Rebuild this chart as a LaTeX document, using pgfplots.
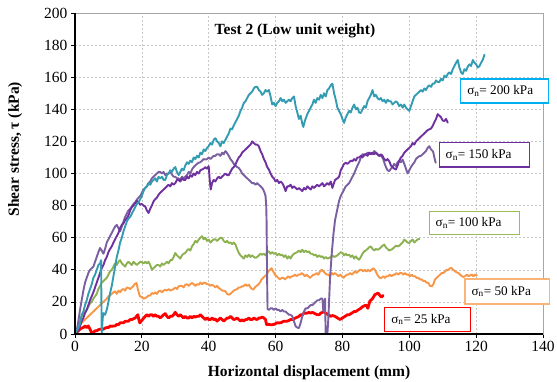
\documentclass[border=0pt]{standalone}
\usepackage{fontspec}
\setmainfont{Liberation Serif}
\usepackage{pgfplots}
\pgfplotsset{compat=1.18}

\definecolor{c200}{RGB}{52,156,178}
\definecolor{c150a}{RGB}{112,48,160}
\definecolor{c150b}{RGB}{122,96,160}
\definecolor{c100}{RGB}{140,177,80}
\definecolor{c50}{RGB}{247,150,70}
\definecolor{c25}{RGB}{255,0,0}
\definecolor{b200}{RGB}{0,176,240}
\definecolor{b150}{RGB}{112,48,160}
\definecolor{b100}{RGB}{155,187,89}
\definecolor{b50}{RGB}{250,180,120}
\definecolor{b25}{RGB}{255,0,0}

% boxed series label: colour, box width, box height, position, text
\newcommand{\seriesbox}[5]{%
  \node[draw=#1, line width=1.2pt, fill=white, inner sep=0pt,
        minimum width=#2, minimum height=#3,
        font=\fontsize{13.2}{15}\selectfont] at (#4)
       {\makebox[\dimexpr#2-13pt\relax][l]{#5}};}

\begin{document}
\begin{tikzpicture}
\useasboundingbox (-75pt,-47pt) rectangle (482pt,334pt);
\begin{axis}[
  at={(0pt,0pt)}, anchor=south west,
  width=468pt, height=321pt, scale only axis,
  xmin=0, xmax=140, ymin=0, ymax=200,
  xtick={0,20,...,140}, ytick={0,20,...,200},
  tick pos=left, tick align=outside, major tick length=4pt,
  tick style={black, line width=0.8pt},
  grid=major,
  major grid style={gray!45, dash pattern=on 2pt off 2pt, line width=0.6pt},
  axis line style={gray!70, line width=0.8pt},
  ticklabel style={font=\fontsize{15.5}{18}\selectfont},
  /pgf/number format/assume math mode=true,
  clip=false,
  xlabel={Horizontal displacement (mm)},
  ylabel={Shear stress, τ (kPa)},
  label style={font=\bfseries\fontsize{15.5}{18}\selectfont},
  xlabel style={at={(axis description cs:0.5,-0.1215)}, anchor=center},
  ylabel style={at={(axis description cs:-0.128,0.576)}, anchor=center},
  every axis plot/.append style={line join=round, line cap=round, no markers},
]

% 25 kPa
\addplot[c25, line width=2.8pt] coordinates {
(0,0.6)(0.5,1)(1,2)(1.5,3)(2,3.7)(2.5,4)(3,5)(3.5,4)(4,5)(4.5,3)(5,0.6)(5.5,1)(6,2)(6.5,2)(7,2.7)(7.5,3)(8,3)(8.5,3)(9,3.7)(9.5,4)(10,4)(10.5,5)(11,4.8)(11.5,5)(12,5)(12.5,6)(13,5.8)(13.5,7)(14,7)(14.5,7)(15,7.9)(15.5,8)(16,8)(16.5,9)(17,9)(17.5,9.5)(18,10)(18.4,11)(18.8,12)(19.1,9)(19.4,6.9)(19.8,8)(20.2,9)(20.6,10)(21,11)(21.5,12)(22,11)(22.5,12)(23,12)(23.5,11)(24,12)(24.5,11)(25,11)(25.5,10)(26,11)(26.5,12)(27,12.7)(27.5,11)(28,10)(28.5,11)(29,11)(29.5,12)(30,13.5)(30.5,12)(31,11)(31.5,12)(32,11)(32.5,10)(33,11)(33.5,10)(34,10)(34.5,11)(35,10)(35.5,11)(36,10.6)(36.5,11)(37,11)(37.5,12)(38,11)(38.5,10)(39,9)(39.5,10)(40,9)(40.5,9)(41,10)(41.5,9)(42,9.3)(42.5,8)(43,9)(43.5,10)(44,9)(44.5,8)(45,9)(45.5,10)(46,10)(46.5,11)(47,10)(47.5,9)(48,9.3)(48.5,10)(49,9)(49.5,8)(50,9)(50.5,8)(51,9)(51.5,9)(52,10)(52.5,9)(53,9)(53.5,10)(54,9.3)(54.5,9)(55,10)(55.5,10)(56,10.6)(56.5,10)(57,9)(57.3,5.8)(58,6)(58.5,5.8)(59,5.8)(59.5,6)(60,6.5)(60.5,7)(61,6.9)(61.5,7)(62,7.5)(62.5,8)(63,7.9)(63.5,8)(64,8.5)(64.5,9)(65,9)(65.5,9.5)(66,10)(66.5,10.5)(67,11)(67.5,12)(68,12)(68.5,13)(69,13)(69.5,13)(70,13.5)(70.5,13)(71,13.5)(71.5,13)(72,12.5)(72.5,12)(73,12)(73.5,13)(74,13.5)(74.3,14)(75,13)(75.8,12)(76.5,11)(77,11.5)(77.8,11)(78.5,10)(79.3,9)(80,10)(80.8,11)(81.5,12)(82,12)(82.8,13)(83.5,14)(84,14)(84.7,15)(85.5,16)(86,17)(86.7,17.7)(87.2,18)(87.6,16)(88.2,20.4)(89,22)(89.7,24.5)(90.2,25)(90.7,25.5)(91.2,24)(91.7,23)(92.2,24)
};

% 50 kPa
\addplot[c50, line width=1.9pt] coordinates {
(0,0)(0.5,2)(1,4)(1.5,5.5)(2,6.9)(2.5,8)(3,9)(3.5,10)(4,11)(4.5,12)(5,13)(5.5,14)(6,15)(6.5,16)(7,17)(7.5,18)(8,19)(8.5,20)(9,21)(9.5,22)(10,23.5)(10.5,24)(11,25)(11.5,26)(12,26.6)(12.5,25)(13,27)(13.5,26)(14,27.6)(14.5,28)(15,27)(15.5,29)(16,28.7)(16.5,28)(17,29)(17.4,29.7)(17.8,31)(18.4,31.8)(18.8,28)(19.4,23.5)(20,23)(20.5,22)(21,22.4)(21.5,23)(22,24)(22.5,24)(23,25.5)(23.5,25)(24,26)(24.5,25)(25,26.6)(25.5,27)(26,26)(26.5,27)(27,27.6)(27.5,27)(28,28)(28.5,27)(29,27.6)(29.5,28)(30,29)(30.5,28)(31,29.7)(31.5,30)(32,30)(32.5,29)(33,30.7)(33.5,31)(34,30)(34.5,31)(35,31.8)(35.5,31)(36,30)(36.5,31)(37,30.7)(37.5,32)(38,31)(38.5,32)(39,31.8)(39.5,31)(40,31)(40.5,30)(41,30.7)(41.5,30)(42,29)(42.5,30)(43,28.7)(43.5,28)(44,27)(44.5,27)(45,26.6)(45.5,25)(46,24.5)(46.5,25)(47,26)(47.5,27)(48,27.6)(48.5,28)(49,29)(49.5,29)(50,29.7)(50.5,30)(51,31)(51.5,30)(52,30.7)(52.5,29)(53,28)(53.3,27.6)(53.8,29)(54.3,30)(54.8,30.7)(55.3,32)(55.8,34)(56.3,35)(56.8,36)(57.3,37)(57.8,39)(58.3,40)(58.8,41)(59.3,39)(59.8,37)(60.3,36)(60.8,35)(61.3,34)(61.8,35)(62.3,35)(62.8,34)(63.3,35)(63.8,36)(64.3,35)(64.8,36)(65.3,36)(65.8,37)(66.3,36)(66.8,37)(67.3,37)(67.8,38)(68.3,37)(68.8,36)(69.3,37)(69.8,36)(70.3,35)(70.8,36)(71.3,37)(71.8,37)(72.3,38)(72.8,37)(73.3,39)(73.8,40)(74.3,39)(74.8,38)(75.3,37)(75.8,37)(76.3,36)(76.8,38)(77.3,37)(77.8,38)(78.3,37)(78.8,36)(79.3,37)(79.8,36)(80.3,35)(80.8,36)(81.3,37)(81.8,37)(82.3,38)(82.8,37)(83.3,38)(83.7,39)(84.2,38)(84.7,39)(85.2,40)(85.7,40)(86.2,39)(86.7,40)(87.2,39)(87.7,40)(88.2,39)(88.7,40)(89.2,41)(89.7,40)(90.2,38)(90.7,36)(91.2,35)(91.7,35)(92.2,36)(92.7,35)(93.2,36)(93.7,36)(94.2,37)(94.7,36)(95.2,37)(95.7,37)(96.2,38)(96.7,37)(97.2,38)(97.7,38)(98.2,37)(98.7,38)(99.2,37)(99.7,37)(100.2,36)(100.7,37)(101.2,36)(101.7,36)(102.2,35)(102.7,35)(103.2,34)(103.7,34)(104.2,33)(104.7,33)(105.2,32)(105.7,31.8)(106.2,30)(106.7,29.7)(107.2,31)(107.7,34)(108.2,35)(108.7,36)(109.2,37)(109.7,38)(110.2,38)(110.7,39)(111.2,40)(111.7,40)(112.2,41)(112.7,41)(113.2,40)(113.7,39)(114.2,38.4)(114.7,38)(115.2,37)(115.7,36)(116.2,35.6)(116.7,36)(117.2,37)(117.7,36)(118.2,36.6)(118.7,37)(119.2,36)(119.7,37)(120.2,36.6)
};

% 100 kPa
\addplot[c100, line width=1.9pt] coordinates {
(0,0)(0.5,2)(1,5)(1.5,8)(2,11)(2.5,12)(3,14)(3.5,15)(4,17)(4.5,19)(5,20)(5.5,22)(6,23.5)(6.5,25)(7,28)(7.5,30)(8,32)(8.5,33)(9,34)(9.5,35)(10,37)(10.5,39)(11,40)(11.5,42)(12,44)(12.5,43)(13,45)(13.5,46)(14,44)(14.5,43)(15,42)(15.5,44)(16,45)(16.5,44)(17,43)(17.5,45)(18,44)(18.5,43)(19,44)(19.5,45)(20,44.7)(20.5,44)(21,45)(21.5,44)(22,45)(22.5,43)(23,40)(23.5,41)(24,42)(24.5,43)(25,43)(25.5,42)(26,44)(26.5,43)(27,44)(27.5,45)(28,44)(28.5,46)(29,46)(29.5,48)(30,50.5)(30.5,49)(31,48)(31.5,47)(32,49)(32.5,50)(33,50.5)(33.5,52)(34,53)(34.5,52)(35,54.6)(35.5,56)(36,58)(36.5,57)(37,58.8)(37.5,60)(38,60.9)(38.5,59)(39,60)(39.5,58)(40,58.8)(40.5,57)(41,58)(41.5,59)(42,59)(42.5,58)(43,59)(43.5,60)(44,59.8)(44.5,58)(45,57)(45.5,58)(46,56.7)(46.5,57)(47,56)(47.5,57)(48,55.7)(48.5,53)(49,50.5)(49.5,49)(50,48)(50.5,47)(51,49)(51.5,48)(52,49.4)(52.5,48)(53,49)(53.5,48)(54,47.4)(54.5,48)(55,49)(55.5,50)(56,49.4)(56.5,50)(57,49)(57.5,51)(58,51.5)(58.5,50)(59,51)(59.5,50)(60,50.5)(60.5,49)(61,50)(61.5,49)(62,49.4)(62.5,48)(63,49)(63.5,47)(64,48.4)(64.5,47)(65,49)(65.5,50)(66,50.5)(66.5,51)(67,52)(67.5,51)(68,52.5)(68.5,51)(69,52)(69.5,51)(70,51.5)(70.5,50)(71,50)(71.5,49)(72,49.4)(72.5,48)(73,49)(73.5,48)(74,48.4)(74.5,47)(75,48)(75.5,47)(76,47.4)(76.5,48)(77,49)(77.5,48)(78,48.4)(78.5,49)(79,50)(79.5,51)(80,50.5)(80.5,49)(81,50)(81.5,49)(82,49.4)(82.5,48)(83,49)(83.5,47)(84,48.4)(84.5,47)(85,46.3)(85.5,48)(86,50)(86.5,51.5)(87,52)(87.5,53)(88,54)(88.5,54.6)(89,53)(89.5,52)(90,53)(90.5,52.5)(91,53)(91.5,54)(92,55)(92.5,55.7)(93,54)(93.5,53)(94,52)(94.5,52.5)(95,53)(95.5,54)(96,55)(96.5,54.6)(97,55)(97.5,56)(98,57)(98.5,58.8)(99,58)(99.5,57)(100,56.7)(100.5,58)(101,58.8)(101.5,57)(102,58)(102.5,59)(103,59.2)
};

% 150 kPa, second trace
\addplot[c150b, line width=1.9pt] coordinates {
(0,0)(0.5,1.7)(1,8)(1.5,15)(2,21)(2.5,27)(3,32)(3.5,35)(4,38)(4.5,40)(5,41)(5.5,42)(6,45)(6.5,48)(7,51)(7.5,53.6)(8,52)(8.5,50)(9,53)(9.5,57)(10,59)(10.5,61)(11,63)(11.5,65)(12,67)(12.5,68)(13,66)(13.5,64)(14,67)(14.5,70)(15,73)(15.5,75)(16,77)(16.5,78)(17,79.5)(17.5,81)(18,82)(18.5,83.7)(19,85)(19.5,86)(20,88)(20.5,90)(21,91)(21.5,92)(22,94)(22.5,95)(23,97)(23.5,98)(24,99)(24.5,100)(25,101)(25.5,101)(26,100)(26.5,101)(27,99)(27.5,100)(28,100)(28.5,101)(29,99.4)(29.5,98)(30,98)(30.5,97)(31,97)(31.5,96)(32,98)(32.5,97)(33,98)(33.5,99)(34,101)(34.5,100)(35,102.5)(35.5,104)(36,105)(36.5,106)(37,106.7)(37.5,107)(38,108)(38.5,109)(39,108.7)(39.5,109)(40,110)(40.5,109)(41,110)(41.5,111)(42,111)(42.5,112)(43,112)(43.5,111)(44,113)(44.5,112)(45,114)(45.4,113)(46,111)(46.5,109)(47,107.7)(47.5,106)(48,105)(48.5,104)(49,103.5)(49.5,102)(50,100)(50.5,99)(51,98)(51.5,97)(52,96)(52.5,95)(53,94)(53.5,94)(54,93)(54.5,94)(55,93)(55.5,92)(56,91)(56.3,90)(56.7,88)(57,86)(57.2,80)(57.3,71)(57.4,50)(57.5,30)(57.6,15.6)(58,15)(58.5,16)(59,16)(59.5,15)(60,16)(60.5,15)(61,15)(61.5,14)(62,15)(62.5,14)(63,14)(63.5,13)(64,12)(64.5,12)(65,11)(65.5,8)(66,4.8)(66.5,4)(67,3.7)(67.5,7)(68,11)(68.5,14)(69,16)(69.5,16)(70,17)(70.5,18)(71,18)(71.5,19)(72,20)(72.5,21)(73,21)(73.5,22)(74,22)(74.3,14)(74.6,20)(74.8,22)(74.9,10)(75,0)(75.5,0)(75.8,10)(76,20)(76.3,35)(76.8,50)(77.3,62)(77.8,71)(78.5,78)(79,83)(79.5,86)(80,88)(80.5,90)(81,92)(81.5,93)(82,94)(82.5,96)(83,98)(83.5,100)(84,102.5)(84.5,105)(85,107)(85.5,110)(86,112)(86.5,111)(87,112)(87.5,113)(88,112)(88.5,113)(89,112)(89.5,114)(90,113)(90.5,112)(91,111)(91.5,111)(92,110)(92.5,107)(93,104)(93.5,102)(94,101.5)(94.5,103)(95,104)(95.5,106)(96,104.6)(96.5,107)(97,108)(97.5,107)(98,108.7)(98.5,106)(99,103)(99.5,100)(100,102)(100.5,104)(101,105.6)(101.5,107)(102,109)(102.5,110)(103,110.8)(103.5,111)(104,112)(104.5,113)(105,114)(105.5,116)(106,117)(106.5,115)(107,114)(107.2,113)(107.5,110)(107.9,106.7)
};

% 150 kPa
\addplot[c150a, line width=1.9pt] coordinates {
(0,0)(0.5,1)(1,2.7)(1.5,5)(2,8)(2.5,10)(3,13)(3.5,15)(4,18)(4.5,21)(5,23.5)(5.5,26)(6,29)(6.5,32)(7,35)(7.5,38)(8,41)(8.5,43)(9,46)(9.5,48)(10,51)(10.5,53)(11,54.6)(11.5,57)(12,59)(12.5,61)(13,63)(13.5,66)(14,68)(14.5,69)(15,71)(15.5,72)(16,74)(16.5,77)(17,79)(17.5,80)(18,81.6)(18.5,83)(19,82)(19.5,80.6)(20,81)(20.5,80)(21,79.5)(21.5,77)(22,75.4)(22.5,78)(23,80)(23.5,82.7)(24,84)(24.5,85)(25,86.8)(25.5,88)(26,89)(26.5,90)(27,91)(27.5,92)(28,93)(28.5,92)(29,94)(29.5,93)(30,94)(30.5,96)(31,96)(31.5,95)(32,97)(32.5,96)(33,96)(33.5,98)(34,97)(34.5,99)(35,98)(35.5,100)(36,99)(36.5,101)(37,100)(37.5,102)(38,102.5)(38.5,103)(39,104)(39.5,103)(40,104.6)(40.3,96)(40.6,90)(41,94)(41.5,96)(42,95)(42.5,97)(43,98)(43.5,97)(44,98)(44.5,99)(45,100)(45.5,99)(46,99)(46.5,101)(47,103)(47.5,104)(48,105.6)(48.5,108)(49,110)(49.5,111)(50,113)(50.5,114)(51,115)(51.5,116)(52,117)(52.5,118)(53,120)(53.5,119)(54,118)(54.5,118)(55,117)(55.5,114)(56,112)(56.5,109)(57,107)(57.5,104)(58,102.5)(58.5,100)(59,98)(59.5,97)(60,95)(60.5,96)(61,94)(61.5,95)(62,94)(62.5,92)(63,89)(63.5,92)(64,92)(64.5,93)(65,91)(65.5,92)(66,91)(66.5,90)(67,91)(67.5,90)(68,89)(68.5,91)(69,90)(69.5,92)(70,91)(70.5,90)(71,92)(71.5,91)(72,92)(72.5,93)(73,92)(73.5,93)(74,94)(74.5,92)(75,93)(75.5,94)(76,93)(76.5,95)(77,91)(77.3,93)(77.8,96)(78.5,97)(79,98)(79.5,102)(80,104)(80.5,106)(81,106.7)(81.5,106)(82,107)(82.5,108)(83,107.7)(83.5,109)(84,108)(84.5,110)(85,110)(85.5,111)(86,110)(86.5,112)(87,112)(87.5,111)(88,113)(88.5,112)(89,113)(89.5,112)(90,113)(90.5,112)(91,111)(91.5,112)(92,111)(92.5,109)(93,108)(93.5,109)(94,107.7)(94.5,105)(95,104)(95.5,103)(96,102.5)(96.5,105)(97,108)(97.5,110)(98,111)(98.5,113)(99,114)(99.5,115)(100,116)(100.5,117)(101,119)(101.5,118)(102,120)(102.5,121)(103,122)(103.5,123)(104,124)(104.5,125)(105,126)(105.5,127)(106,127.5)(106.5,128)(107,129.6)(107.5,132)(108,134)(108.5,137)(109,136)(109.5,135)(110,133)(110.5,132.7)(111,134)(111.5,131.7)
};

% 200 kPa
\addplot[c200, line width=1.9pt] coordinates {
(0,0)(0.5,2)(1,4)(1.5,6.5)(2,12)(2.5,14)(3,18)(3.5,21)(4,25)(4.5,28)(5,31)(5.5,35)(6,37)(6.5,40)(7,43)(7.5,44)(7.8,46)(7.9,20)(8,0.6)(8.3,10)(8.5,13)(9,12)(9.5,15)(10,20)(10.5,25.5)(11,30)(11.5,36)(12,42)(12.5,48)(13,52)(13.5,57)(14,60)(14.5,64)(15,67)(15.5,70)(16,72)(16.5,73)(17,75)(17.5,77)(18,79)(18.5,81)(19,82)(19.5,84)(20,86)(20.5,89)(21,91)(21.5,92)(22,94)(22.5,93)(23,95)(23.5,96)(24,97)(24.5,95)(25,98)(25.5,97)(26,98)(26.5,96)(27,96)(27.5,99)(28,100)(28.5,102)(29,101)(29.5,103)(30,104)(30.5,101)(31,99)(31.5,101)(32,103)(32.5,102)(33,105)(33.5,107)(34,106)(34.5,108)(35,107)(35.5,110)(36,109)(36.5,111)(37,110)(37.5,113)(38,112)(38.5,115)(39,114)(39.5,116)(40,117)(40.5,119)(41,118)(41.5,121)(42,122)(42.5,120)(43,119)(43.5,117)(44,120)(44.5,119)(45,121)(45.5,123)(46,125)(46.5,128)(47,127.5)(47.5,130)(48,132)(48.5,134)(49,136)(49.5,139)(50,141)(50.5,144)(51,145)(51.5,147)(52,149)(52.5,150)(53,151)(53.5,153)(54,154)(54.5,154)(55,152)(55.5,151)(56,149)(56.5,150)(57,152)(57.5,151)(58,152)(58.5,148)(59,143)(59.5,144)(60,142)(60.5,144)(61,145)(61.5,147)(62,145)(62.5,146)(63,144)(63.5,145)(64,146)(64.5,145)(65,147)(65.5,148)(66,142)(66.5,138)(67,134)(67.5,136)(68,131)(68.3,129)(68.8,133)(69.5,137)(70,139)(70.5,141)(71,143)(71.5,146)(72,144)(72.5,147)(73,146)(73.5,149)(74,147)(74.5,150)(75,148)(75.5,152)(76,153)(76.5,155)(77,156)(77.5,150)(78,146)(78.5,141)(79,139)(79.5,137)(80,134)(80.5,131.5)(81,135)(81.5,137)(82,139)(82.5,138)(83,141)(83.5,143)(84,140)(84.5,141)(85,138)(85.5,137.7)(86,140)(86.5,142)(87,141)(87.5,145)(88,147)(88.5,149)(89,152)(89.5,148)(90,149)(90.5,147)(91,146)(91.5,147)(92,145)(92.5,146)(93,144)(93.5,146)(94,145)(94.5,145)(95,143)(95.5,144)(96,145)(96.5,144)(97,142)(97.5,143)(98,141)(98.5,143)(99,141)(99.5,140)(100,139)(100.5,142)(101,145)(101.5,148)(102,149)(102.5,150)(103,151)(103.5,152)(104,151)(104.5,153)(105,152)(105.5,154)(106,155)(106.5,154)(107,156)(107.5,156)(108,158)(108.5,157)(109,157)(109.5,159)(110,158)(110.5,161)(111,160)(111.5,162)(112,163)(112.5,162)(113,165)(113.5,167)(114,169)(114.5,170.7)(115,166)(115.5,163)(116,162)(116.5,165)(117,164)(117.5,166.6)(118,168)(118.5,167)(119,170.7)(119.5,169)(120,168)(120.5,166)(121,167)(121.5,169)(122,171)(122.5,174)
};

% title and series labels
\node[font=\bfseries\fontsize{15.5}{18}\selectfont] at (axis cs:65.8,189) {Test 2 (Low unit weight)};
\seriesbox{b200}{87.6pt}{24pt}{axis cs:128.5,151.4}{σ\textsubscript{n}= 200 kPa}
\seriesbox{b150}{90.7pt}{24.6pt}{axis cs:122.5,111.7}{σ\textsubscript{n}= 150 kPa}
\seriesbox{b100}{90pt}{23.3pt}{axis cs:119.4,69.1}{σ\textsubscript{n}= 100 kPa}
\seriesbox{b50}{84.3pt}{25pt}{axis cs:129.3,26.5}{σ\textsubscript{n}= 50 kPa}
\seriesbox{b25}{85.7pt}{24pt}{axis cs:105.5,9.1}{σ\textsubscript{n}= 25 kPa}

% dark left and bottom spines
\draw[black, line width=1.5pt] (rel axis cs:0,1) -- (rel axis cs:0,0) -- (rel axis cs:1,0);
\end{axis}
\end{tikzpicture}
\end{document}
